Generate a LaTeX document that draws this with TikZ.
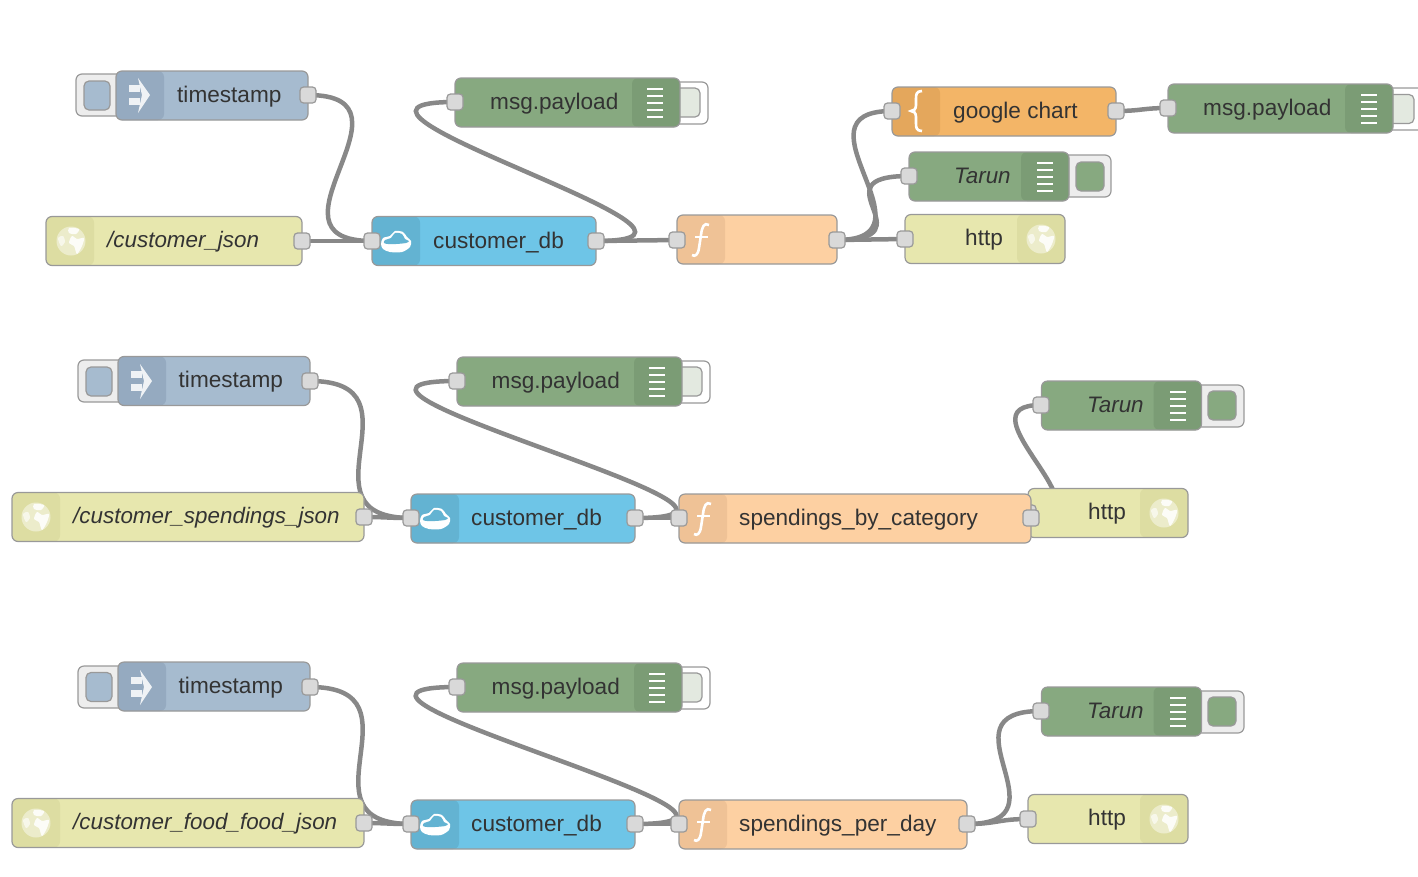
\documentclass[tikz,border=0pt]{standalone}
\usepackage{fontspec}
\setmainfont{Liberation Sans}
\definecolor{wirecol}{HTML}{888888}
\definecolor{edgecol}{HTML}{999999}
\definecolor{portcol}{HTML}{D9D9D9}
\definecolor{textcol}{HTML}{333333}
\definecolor{injectcol}{HTML}{A6BBCF}
\definecolor{injectband}{HTML}{95AAC0}
\definecolor{httpcol}{HTML}{E7E7AE}
\definecolor{httpband}{HTML}{DDDDA2}
\definecolor{dbcol}{HTML}{6EC5E7}
\definecolor{dbband}{HTML}{63B3D2}
\definecolor{debugcol}{HTML}{87A980}
\definecolor{debugband}{HTML}{7B9C75}
\definecolor{funccol}{HTML}{FDD0A2}
\definecolor{funcband}{HTML}{EFC296}
\definecolor{tplcol}{HTML}{F3B567}
\definecolor{tplband}{HTML}{E4A75C}
\definecolor{offcol}{HTML}{E3E9E0}
\pgfdeclarelayer{wires}
\pgfsetlayers{wires,main}
\tikzset{
  flowbox/.style={draw=edgecol,line width=1.2pt,rounded corners=6pt,inner sep=0pt,minimum height=49},
  bandleft/.style={path picture={\fill[#1] (path picture bounding box.north west) rectangle ([xshift=48pt]path picture bounding box.south west);}},
  bandright/.style={path picture={\fill[#1] (path picture bounding box.north east) rectangle ([xshift=-48pt]path picture bounding box.south east);}},
  injectbox/.style={flowbox,fill=injectcol,bandleft=injectband},
  httpinbox/.style={flowbox,fill=httpcol,bandleft=httpband},
  httpoutbox/.style={flowbox,fill=httpcol,bandright=httpband},
  dbbox/.style={flowbox,fill=dbcol,bandleft=dbband},
  debugbox/.style={flowbox,fill=debugcol,bandright=debugband},
  funcbox/.style={flowbox,fill=funccol,bandleft=funcband},
  tplbox/.style={flowbox,fill=tplcol,bandleft=tplband},
  portbox/.style={draw=edgecol,line width=1.2pt,fill=portcol,rounded corners=3.5pt,inner sep=0pt,minimum size=16},
  btnouter/.style={draw=edgecol,line width=1.2pt,rounded corners=6pt,inner sep=0pt},
  btninner/.style={draw=edgecol,line width=1.2pt,rounded corners=5pt,inner sep=0pt},
  flowlabel/.style={anchor=base west,inner sep=0pt,text=textcol,font=\fontsize{22.6}{26}\selectfont},
  italabel/.style={anchor=base west,inner sep=0pt,text=textcol,font=\fontsize{22.4}{26}\selectfont\itshape},
  wire/.style={draw=wirecol,line width=4.5pt},
  globeicon/.pic={
    \fill[white,opacity=.45] (0,0) circle (14.5);
    \fill[white,opacity=.85] plot[smooth cycle] coordinates {(1,-5) (6,-2) (13,-3) (11,5) (6,13) (3,5) (-2,2)};
    \fill[white,opacity=.85] plot[smooth cycle] coordinates {(-2,-13) (8,-12) (5,-7) (-2,-8)};
    \fill[white,opacity=.6] plot[smooth cycle] coordinates {(-13,-3) (-8,-5) (-6,1) (-10,5)};
  },
  arrowicon/.pic={
    \fill[white,opacity=.85] (-10,-10) rectangle (1,-3);
    \fill[white,opacity=.85] (-10,3) rectangle (1,10);
    \fill[white,opacity=.85] (-1,-17) -- (11,0) -- (-1,18) -- (3,0) -- cycle;
  },
  cloudicon/.pic={
    \fill[white] plot[smooth cycle] coordinates {(-15,3) (-13,-3) (-6,-5) (-1,-10) (7,-9) (11,-4) (15,0) (14,6) (6,11) (-6,11) (-13,8)};
    \fill[dbband] plot[smooth cycle] coordinates {(-12,2) (-11,-1) (-5,-3) (-1,-8) (6,-7) (9,-2) (13,0) (10,2) (0,3) (-8,3)};
  },
  funcicon/.pic={
    \draw[white,line width=2.6pt] (8,-15) .. controls (3,-18) and (1,-13) .. (0,-5) -- (-2,8) .. controls (-3,15) and (-6,17) .. (-9,15);
    \draw[white,line width=2.4pt] (-6,-3) -- (7,-3);
  },
  braceicon/.pic={
    \draw[white,line width=2.6pt] (7,-20) .. controls (1,-20) and (1,-16) .. (1,-12) -- (1,-6) .. controls (1,-2) and (-1,0) .. (-4,0) .. controls (-1,0) and (1,2) .. (1,6) -- (1,12) .. controls (1,16) and (1,20) .. (7,20);
  },
  listicon/.pic={
    \foreach \ly in {-14,-7,0,7,14}
      \draw[white,line width=2pt] (-8,\ly) -- (8,\ly);
  },
}
\begin{document}
\begin{tikzpicture}[x=1pt,y=-1pt]
    \useasboundingbox (0,0) rectangle (1418,876);
    % first flow
    \node[btnouter,fill=black!7,minimum width=50,minimum height=42] (btn1) at (101,95) {};
    \node[btninner,fill=injectcol,minimum width=26,minimum height=29] (btn1i) at (97,95.5) {};
    \node[injectbox,minimum width=192] (ts1) at (212,95.5) {};
    \pic at (139,95) {arrowicon};
    \node[flowlabel] (ts1t) at (177,102) {timestamp};
    \node[portbox] (ts1o) at (308,95) {};
    \node[httpinbox,minimum width=256] (js1) at (174,241) {};
    \pic at (71,241) {globeicon};
    \node[italabel] (js1t) at (107,247) {/customer\_json};
    \node[portbox] (js1o) at (302,241) {};
    \node[dbbox,minimum width=224] (db1) at (484,241) {};
    \pic at (396,241) {cloudicon};
    \node[flowlabel] (db1t) at (433,248) {customer\_db};
    \node[portbox] (db1i) at (372,241) {};
    \node[portbox] (db1o) at (596,241) {};
    \node[btnouter,fill=white,minimum width=50,minimum height=42] (btn2) at (683,103) {};
    \node[btninner,fill=offcol,minimum width=28,minimum height=29] (btn2i) at (686,102.5) {};
    \node[debugbox,minimum width=225] (dg1) at (567.5,102.5) {};
    \pic at (655,103) {listicon};
    \node[flowlabel] (dg1t) at (490,109) {msg.payload};
    \node[portbox] (dg1i) at (455,102) {};
    \node[funcbox,minimum width=160] (fn1) at (757,239.5) {};
    \pic at (701,240) {funcicon};
    \node[portbox] (fn1i) at (677,240) {};
    \node[portbox] (fn1o) at (837,240) {};
    \node[tplbox,minimum width=224] (tp1) at (1004,111.5) {};
    \pic at (915,111) {braceicon};
    \node[flowlabel] (tp1t) at (953,118) {google chart};
    \node[portbox] (tp1i) at (892,111) {};
    \node[portbox] (tp1o) at (1116,111) {};
    \node[btnouter,fill=white,minimum width=60,minimum height=42] (btn3) at (1398,109) {};
    \node[btninner,fill=offcol,minimum width=28,minimum height=29] (btn3i) at (1400,109) {};
    \node[debugbox,minimum width=225] (dg2) at (1280.5,108.5) {};
    \pic at (1369,109) {listicon};
    \node[flowlabel] (dg2t) at (1203,115) {msg.payload};
    \node[portbox] (dg2i) at (1168,108) {};
    \node[btnouter,fill=black!7,minimum width=50,minimum height=42] (btn4) at (1086,176) {};
    \node[btninner,fill=debugcol,minimum width=28,minimum height=29] (btn4i) at (1090,176.5) {};
    \node[debugbox,minimum width=160] (tr1) at (989,176.5) {};
    \pic at (1045,177) {listicon};
    \node[italabel] (tr1t) at (954,183) {Tarun};
    \node[portbox] (tr1i) at (909,176) {};
    \node[httpoutbox,minimum width=160] (ht1) at (985,239) {};
    \pic at (1041,239) {globeicon};
    \node[flowlabel] (ht1t) at (965,245) {http};
    \node[portbox] (ht1i) at (905,239) {};
    % second flow
    \node[btnouter,fill=black!7,minimum width=50,minimum height=42] (btn5) at (103,381) {};
    \node[btninner,fill=injectcol,minimum width=26,minimum height=29] (btn5i) at (99,381.5) {};
    \node[injectbox,minimum width=192] (ts2) at (214,381) {};
    \pic at (141,381) {arrowicon};
    \node[flowlabel] (ts2t) at (178.5,387) {timestamp};
    \node[portbox] (ts2o) at (310,381) {};
    \node[httpinbox,minimum width=352] (js2) at (188,517) {};
    \pic at (36,517) {globeicon};
    \node[italabel] (js2t) at (73,523) {/customer\_spendings\_json};
    \node[portbox] (js2o) at (364,517) {};
    \node[dbbox,minimum width=224] (db2) at (523,518.5) {};
    \pic at (435,518) {cloudicon};
    \node[flowlabel] (db2t) at (471,525) {customer\_db};
    \node[portbox] (db2i) at (411,518) {};
    \node[portbox] (db2o) at (635,518) {};
    \node[btnouter,fill=white,minimum width=50,minimum height=42] (btn6) at (685,382) {};
    \node[btninner,fill=offcol,minimum width=28,minimum height=29] (btn6i) at (688,381.5) {};
    \node[debugbox,minimum width=225] (dg3) at (569.5,381.5) {};
    \pic at (657,382) {listicon};
    \node[flowlabel] (dg3t) at (491.5,388) {msg.payload};
    \node[httpoutbox,minimum width=160] (ht2) at (1108,513) {};
    \pic at (1164,513) {globeicon};
    \node[flowlabel] (ht2t) at (1088,519) {http};
    \node[portbox] (ht2i) at (1028,513) {};
    \node[portbox] (dg3i) at (457,381) {};
    \node[funcbox,minimum width=352] (fn2) at (855,518.5) {};
    \pic at (703,519) {funcicon};
    \node[flowlabel] (fn2t) at (739,525) {spendings\_by\_category};
    \node[portbox] (fn2i) at (679,518) {};
    \node[portbox] (fn2o) at (1031,518) {};
    \node[btnouter,fill=black!7,minimum width=50,minimum height=42] (btn7) at (1219,406) {};
    \node[btninner,fill=debugcol,minimum width=28,minimum height=29] (btn7i) at (1222,405.5) {};
    \node[debugbox,minimum width=160] (tr2) at (1121.5,405.5) {};
    \pic at (1178,406) {listicon};
    \node[italabel] (tr2t) at (1087,412) {Tarun};
    \node[portbox] (tr2i) at (1041,405) {};
    % third flow
    \node[btnouter,fill=black!7,minimum width=50,minimum height=42] (btn8) at (103,687) {};
    \node[btninner,fill=injectcol,minimum width=26,minimum height=29] (btn8i) at (99,687) {};
    \node[injectbox,minimum width=192] (ts3) at (214,686.5) {};
    \pic at (141,687) {arrowicon};
    \node[flowlabel] (ts3t) at (178.5,693) {timestamp};
    \node[portbox] (ts3o) at (310,687) {};
    \node[httpinbox,minimum width=352] (js3) at (188,823) {};
    \pic at (36,823) {globeicon};
    \node[italabel] (js3t) at (73,829) {/customer\_food\_food\_json};
    \node[portbox] (js3o) at (364,823) {};
    \node[dbbox,minimum width=224] (db3) at (523,824.5) {};
    \pic at (435,824) {cloudicon};
    \node[flowlabel] (db3t) at (471,831) {customer\_db};
    \node[portbox] (db3i) at (411,824) {};
    \node[portbox] (db3o) at (635,824) {};
    \node[btnouter,fill=white,minimum width=50,minimum height=42] (btn9) at (685,688) {};
    \node[btninner,fill=offcol,minimum width=28,minimum height=29] (btn9i) at (688,687.5) {};
    \node[debugbox,minimum width=225] (dg4) at (569.5,687.5) {};
    \pic at (657,688) {listicon};
    \node[flowlabel] (dg4t) at (491.5,694) {msg.payload};
    \node[portbox] (dg4i) at (457,687) {};
    \node[funcbox,minimum width=288] (fn3) at (823,824.5) {};
    \pic at (703,825) {funcicon};
    \node[flowlabel] (fn3t) at (739,831) {spendings\_per\_day};
    \node[portbox] (fn3i) at (679,824) {};
    \node[portbox] (fn3o) at (967,824) {};
    \node[btnouter,fill=black!7,minimum width=50,minimum height=42] (btn10) at (1219,712) {};
    \node[btninner,fill=debugcol,minimum width=28,minimum height=29] (btn10i) at (1222,711.5) {};
    \node[debugbox,minimum width=160] (tr3) at (1121.5,711.5) {};
    \pic at (1178,712) {listicon};
    \node[italabel] (tr3t) at (1087,718) {Tarun};
    \node[portbox] (tr3i) at (1041,711) {};
    \node[httpoutbox,minimum width=160] (ht3) at (1108,819) {};
    \pic at (1164,819) {globeicon};
    \node[flowlabel] (ht3t) at (1088,825) {http};
    \node[portbox] (ht3i) at (1028,819) {};
    % wires go under everything
    \begin{pgfonlayer}{wires}
    \draw[wire] (ts1o.center) .. controls +(120,0) and +(-120,0) .. (db1i.center);
    \draw[wire] (js1o.center) -- (db1i.center);
    \draw[wire] (db1o.center) .. controls +(178,0) and +(-178,0) .. (dg1i.center);
    \draw[wire] (db1o.center) -- (fn1i.center);
    \draw[wire] (fn1o.center) .. controls +(105,0) and +(-105,0) .. (tp1i.center);
    \draw[wire] (fn1o.center) .. controls +(95,0) and +(-95,0) .. (tr1i.center);
    \draw[wire] (fn1o.center) -- (ht1i.center);
    \draw[wire] (tp1o.center) .. controls +(25,0) and +(-25,0) .. (dg2i.center);
    \draw[wire] (ts2o.center) .. controls +(118,0) and +(-118,0) .. (db2i.center);
    \draw[wire] (js2o.center) .. controls +(25,0) and +(-25,0) .. (db2i.center);
    \draw[wire] (db2o.center) .. controls +(195,0) and +(-195,0) .. (dg3i.center);
    \draw[wire] (db2o.center) -- (fn2i.center);
    \draw[wire] (fn2o.center) .. controls +(85,0) and +(-85,0) .. (tr2i.center);
    \draw[wire] (ts3o.center) .. controls +(118,0) and +(-118,0) .. (db3i.center);
    \draw[wire] (js3o.center) .. controls +(25,0) and +(-25,0) .. (db3i.center);
    \draw[wire] (db3o.center) .. controls +(195,0) and +(-195,0) .. (dg4i.center);
    \draw[wire] (db3o.center) -- (fn3i.center);
    \draw[wire] (fn3o.center) .. controls +(105,0) and +(-105,0) .. (tr3i.center);
    \draw[wire] (fn3o.center) .. controls +(30,0) and +(-30,0) .. (ht3i.center);
    \end{pgfonlayer}
\end{tikzpicture}
\end{document}
